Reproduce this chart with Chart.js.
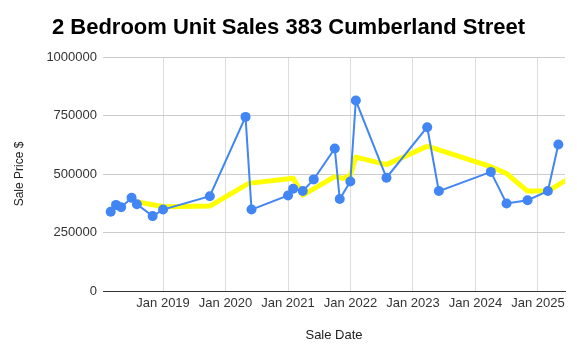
<!DOCTYPE html>
<html>
<head>
<meta charset="utf-8">
<script src="https://cdn.jsdelivr.net/npm/chart.js@4.4.1/dist/chart.umd.min.js"></script>
<style>
html,body{margin:0;padding:0;background:#fff;}
canvas{display:block;}
</style>
</head>
<body>
<canvas id="c" width="577" height="363"></canvas>
<script>
const chartTitle = '2 Bedroom Unit Sales 383 Cumberland Street';
const xAxisTitle = 'Sale Date';
const yAxisTitle = 'Sale Price $';

const saleDates = ['2018-03-01','2018-04-01','2018-05-01','2018-07-01','2018-08-01','2018-11-01','2019-01-01','2019-10-01','2020-04-27','2020-06-01','2021-01-01','2021-01-31','2021-03-28','2021-05-31','2021-10-01','2021-10-30','2021-12-31','2022-02-01','2022-07-30','2023-03-25','2023-06-01','2024-03-31','2024-07-01','2024-11-01','2025-02-28','2025-04-30'];
const salePrices = [339000,368000,358000,398000,371000,320000,348000,405000,744000,348000,408000,437000,427000,477000,609000,393000,468000,814000,484000,700000,427000,509000,374000,388000,427000,626000];

const trendDates = ['2018-07-10','2019-01-04','2019-10-01','2020-05-15','2021-01-31','2021-03-28','2021-10-01','2021-11-20','2021-12-31','2022-02-01','2022-07-30','2023-03-25','2023-06-01','2024-03-31','2024-07-01','2024-11-01','2025-02-28','2025-09-01'];
const trendPrices = [384000,360000,363000,460000,482000,410000,489000,481000,494000,572000,540000,619000,603000,531000,502000,427000,427000,508000];

const xTickYears = [2019,2020,2021,2022,2023,2024,2025];
const yTicks = [0,250000,500000,750000,1000000];
const xRange = ['2018-01-15','2025-06-08'];

function yearFrac(s){
  const d = new Date(s + 'T00:00:00Z');
  const y = d.getUTCFullYear();
  const a = Date.UTC(y,0,1), b = Date.UTC(y+1,0,1);
  return y + (d.getTime() - a) / (b - a);
}

const FONT = "Arial, 'Liberation Sans', sans-serif";

new Chart(document.getElementById('c'), {
  type: 'line',
  data: {
    datasets: [
      {
        label: 'Sale Price',
        data: saleDates.map((d,i)=>({x: yearFrac(d), y: salePrices[i]})),
        borderColor: '#4285F4',
        backgroundColor: '#4285F4',
        borderWidth: 2,
        pointRadius: 5,
        pointHoverRadius: 5,
        pointBorderWidth: 0,
        tension: 0,
        order: 0
      },
      {
        label: 'Trend',
        data: trendDates.map((d,i)=>({x: yearFrac(d), y: trendPrices[i]})),
        borderColor: '#FFFF00',
        backgroundColor: '#FFFF00',
        borderWidth: 5,
        pointRadius: 0,
        tension: 0,
        borderJoinStyle: 'round',
        order: 1
      }
    ]
  },
  options: {
    responsive: false,
    animation: false,
    devicePixelRatio: 1,
    layout: { padding: { left: 0, right: 0, top: 0, bottom: 0 } },
    plugins: {
      legend: { display: false },
      tooltip: { enabled: false },
      title: {
        display: true,
        text: chartTitle,
        color: '#000',
        font: { family: FONT, size: 22, weight: 'bold' },
        padding: { top: 15, bottom: 15.6 }
      }
    },
    scales: {
      x: {
        type: 'linear',
        min: yearFrac(xRange[0]),
        max: yearFrac(xRange[1]),
        afterBuildTicks: s => { s.ticks = xTickYears.map(v => ({value: v})); },
        afterFit: s => { s.height = 72; },
        ticks: {
          color: '#333',
          font: { family: FONT, size: 13 },
          padding: 5,
          maxRotation: 0,
          autoSkip: false,
          callback: v => 'Jan ' + v
        },
        grid: { color: '#dddddd', drawTicks: false, lineWidth: 1 },
        border: { display: true, color: '#333333', width: 1 },
        title: {
          display: true,
          text: xAxisTitle,
          color: '#222',
          font: { family: FONT, size: 13 },
          padding: { top: 0, bottom: 20 }
        }
      },
      y: {
        min: 0,
        max: 1000000,
        afterBuildTicks: s => { s.ticks = yTicks.map(v => ({value: v})); },
        afterFit: s => { s.width = 103; },
        ticks: {
          color: '#333',
          font: { family: FONT, size: 13 },
          padding: 6,
          callback: v => String(v)
        },
        grid: {
          color: ctx => (ctx.tick && ctx.tick.value === 0) ? '#333333' : '#cccccc',
          drawTicks: false,
          lineWidth: 1
        },
        border: { display: false },
        title: {
          display: true,
          text: yAxisTitle,
          color: '#222',
          font: { family: FONT, size: 12 },
          padding: { top: 12, bottom: 0 }
        }
      },
      yRight: {
        position: 'right',
        display: true,
        afterFit: s => { s.width = 12; },
        grid: { display: false, drawTicks: false },
        ticks: { display: false },
        border: { display: false }
      }
    }
  }
});
</script>
</body>
</html>
